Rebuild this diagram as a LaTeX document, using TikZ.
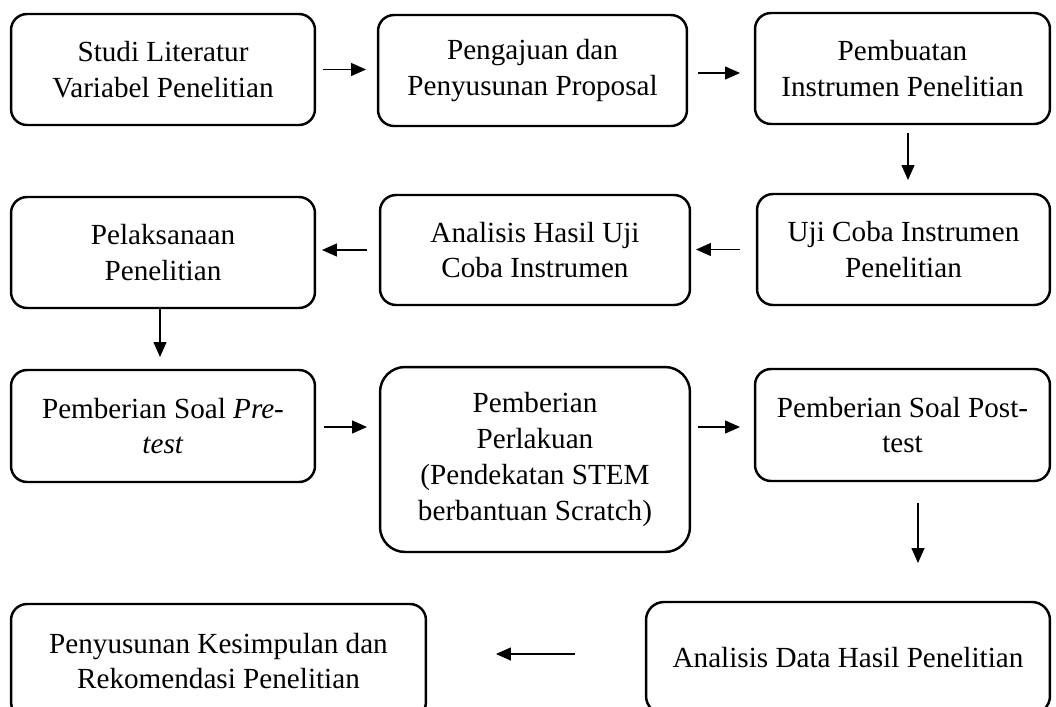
\documentclass[tikz,border=0pt]{standalone}
\usepackage{fontspec}
\setmainfont{Liberation Serif}
\usetikzlibrary{
	calc,               %计算
	positioning,       %定位
	arrows.meta        %箭头
}
\tikzstyle{stage}=[rectangle,
draw,
line width=1.4pt,
inner sep=0pt,
outer sep=0pt,
minimum height=2.22cm,
align=center,
font=\fontsize{16.6}{20.4}\selectfont,
rounded corners=3.2mm]
\tikzstyle{flow}=[->,
line width=0.7pt]
\tikzset{
	every picture/.style={
		>={Triangle[length=0.3cm,width=0.26cm]},
		node distance=5mm and 5mm
}}

\begin{document}
\begin{tikzpicture}[x=0.02cm,y=-0.02cm]
\clip (0,0) rectangle (1056,707);
% baris 1
\node[stage,minimum width=6.08cm] (studi) at (163,69.5) {Studi Literatur\\Variabel Penelitian};
\node[stage,minimum width=6.18cm] (proposal) at (532.5,70.5) {Pengajuan dan\\Penyusunan Proposal};
\node[stage,minimum width=5.90cm] (instrumen) at (902.5,68.5) {Pembuatan\\Instrumen Penelitian};
% baris 2
\node[stage,minimum width=6.08cm] (pelaksanaan) at (163,252.5) {Pelaksanaan\\Penelitian};
\node[stage,minimum width=6.20cm,minimum height=2.20cm] (analisis) at (535,250) {Analisis Hasil Uji\\Coba Instrumen};
\node[stage,minimum width=5.86cm] (ujicoba) at (903.5,249.5) {Uji Coba Instrumen\\Penelitian};
% baris 3
\node[stage,minimum width=6.08cm,minimum height=2.24cm] (pretest) at (163,426) {Pemberian Soal \textit{Pre-}\\\textit{test}};
\node[stage,minimum width=6.20cm,minimum height=3.70cm,rounded corners=5mm] (perlakuan) at (535,459.5) {Pemberian\\Perlakuan\\(Pendekatan STEM\\berbantuan Scratch)};
\node[stage,minimum width=5.90cm,minimum height=2.24cm] (posttest) at (902.5,425) {Pemberian Soal Post-\\test};
% baris 4
\node[stage,minimum width=8.08cm,minimum height=2.24cm,rounded corners=3.6mm] (analisisdata) at (848,658) {Analisis Data Hasil Penelitian};
\node[stage,minimum width=8.30cm,minimum height=2.28cm] (kesimpulan) at (218.5,661) {Penyusunan Kesimpulan dan\\Rekomendasi Penelitian};

\draw[flow,shorten <=0.16cm,shorten >=0.24cm] (studi.east) -- (studi.east -| proposal.west);
\draw[flow,shorten <=0.22cm,shorten >=0.30cm] ([yshift=-0.05cm]proposal.east) -- ([yshift=-0.05cm]proposal.east -| instrumen.west);
\draw[flow,shorten <=0.18cm,shorten >=0.28cm] ([xshift=0.11cm]instrumen.south) -- ([xshift=0.11cm]instrumen.south |- ujicoba.north);
\draw[flow,shorten <=0.34cm,shorten >=0.12cm] (ujicoba.west) -- (ujicoba.west -| analisis.east);
\draw[flow,shorten <=0.26cm,shorten >=0.14cm] (analisis.west) -- (analisis.west -| pelaksanaan.east);
\draw[flow,shorten <=0.02cm,shorten >=0.26cm] ([xshift=-0.06cm]pelaksanaan.south) -- ([xshift=-0.06cm]pelaksanaan.south |- pretest.north);
\draw[flow,shorten <=0.18cm,shorten >=0.26cm] ([yshift=-0.02cm]pretest.east) -- ([yshift=-0.02cm]pretest.east -| perlakuan.west);
\draw[flow,shorten <=0.16cm,shorten >=0.30cm] ([yshift=-0.04cm]posttest.west -| perlakuan.east) -- ([yshift=-0.04cm]posttest.west);
\draw[flow,shorten <=0.44cm,shorten >=0.78cm] ([xshift=0.31cm]posttest.south) -- ([xshift=0.31cm]posttest.south |- analisisdata.north);
\draw[flow,shorten <=1.42cm,shorten >=1.40cm] ([yshift=0.08cm]analisisdata.west) -- ([yshift=0.08cm]analisisdata.west -| kesimpulan.east);
\end{tikzpicture}
\end{document}
